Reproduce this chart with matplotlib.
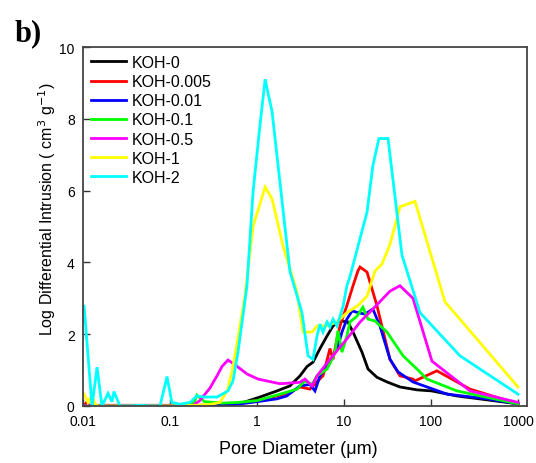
import matplotlib
matplotlib.use("Agg")
import matplotlib.pyplot as plt

plt.rcParams['font.family'] = ['Liberation Sans', 'DejaVu Sans']

labels = ['KOH-0', 'KOH-0.005', 'KOH-0.01', 'KOH-0.1', 'KOH-0.5', 'KOH-1', 'KOH-2']
colors = ['#000000', '#ff0000', '#0000ff', '#00ff00', '#ff00ff', '#ffff00', '#00ffff']

d_koh0 = [0.0103, 0.1, 0.2, 0.5, 0.7, 1.08, 1.7, 2.39, 3.12, 3.76, 4.4, 5.3, 6.38, 7.48, 9.0,
          11.1, 12.7, 16.1, 18.9, 23.9, 31.2, 44, 69, 102, 199, 1000]
v_koh0 = [0.0, 0.0, 0.0, 0.03, 0.1, 0.25, 0.42, 0.56, 0.84, 1.1, 1.22, 1.6, 1.95, 2.23, 2.37,
          2.34, 2.06, 1.5, 1.03, 0.8, 0.67, 0.53, 0.45, 0.42, 0.28, 0.06]

d_koh0005 = [0.0103, 0.0108, 0.012, 0.1, 0.3, 0.6, 1.0, 1.84, 2.5, 3.12, 4.06, 4.4, 5.74, 6.9,
             7.48, 8.31, 9.0, 10.8, 12.7, 14.5, 15.3, 18.4, 23.9, 33.8, 44, 62.1, 65.5, 117,
             281, 1000]
v_koh0005 = [0.0, 0.08, 0.02, 0.02, 0.02, 0.08, 0.15, 0.3, 0.4, 0.53, 0.47, 0.56, 0.84, 1.6,
             1.3, 1.87, 2.23, 2.8, 3.35, 3.77, 3.87, 3.73, 2.8, 1.3, 0.84, 0.75, 0.7, 0.98,
             0.47, 0.06]

d_koh001 = [0.0103, 0.1, 0.3, 0.6, 1.0, 1.7, 2.2, 3.12, 4.06, 4.64, 5.3, 6.9, 8.53, 9.48, 10.8,
            12.4, 14.5, 17.4, 21.5, 25.9, 33.8, 41.8, 62.1, 153, 440, 1000]
v_koh001 = [0.0, 0.0, 0.01, 0.05, 0.12, 0.2, 0.28, 0.56, 0.6, 0.42, 0.84, 1.22, 1.67, 2.06, 2.42,
            2.65, 2.6, 2.56, 2.7, 2.23, 1.3, 0.95, 0.67, 0.33, 0.2, 0.06]

d_koh01 = [0.0103, 0.1, 0.15, 0.19, 0.204, 0.25, 0.4, 0.6, 1.0, 1.84, 2.88, 3.56, 4.29, 4.9, 6.38,
           7.28, 7.88, 8.53, 9.48, 10.8, 11.7, 14.1, 16.5, 18.9, 22.7, 31.2, 47.7, 69, 90,
           199, 1000]
v_koh01 = [0.0, 0.0, 0.02, 0.1, 0.3, 0.12, 0.08, 0.1, 0.15, 0.33, 0.47, 0.7, 0.6, 0.84, 1.03,
           1.3, 1.5, 2.1, 1.5, 1.95, 2.34, 2.5, 2.75, 2.42, 2.37, 2.06, 1.4, 1.03, 0.75,
           0.42, 0.06]

d_koh05 = [0.0103, 0.1, 0.18, 0.22, 0.288, 0.347, 0.396, 0.464, 0.558, 0.77, 1.03, 1.84, 3.12,
           3.56, 4.29, 4.9, 6.9, 10.8, 15.3, 21.5, 33.8, 44, 62.1, 102.6, 281, 1000]
v_koh05 = [0.0, 0.0, 0.0, 0.15, 0.5, 0.84, 1.1, 1.28, 1.15, 0.89, 0.75, 0.62, 0.66,
           0.75, 0.56, 0.84, 1.3, 1.87, 2.34, 2.7, 3.2, 3.35, 3.0, 1.25, 0.42, 0.1]

d_koh1 = [0.0103, 0.0114, 0.0127, 0.0137, 0.015, 0.02, 0.05, 0.1, 0.2, 0.3, 0.376, 0.46, 0.53,
          0.605, 0.73, 0.9, 1.24, 1.49, 1.99, 2.88, 3.38, 4.29, 4.9, 6.38, 8.31, 10.8, 14.5,
          18.4, 22.7, 27.3, 33.8, 44, 65.5, 145, 215, 1000]
v_koh1 = [0.33, 0.1, 0.3, 0.05, 0.0, 0.0, 0.0, 0.0, 0.02, 0.05, 0.1, 0.45, 1.1,
          1.9, 3.1, 5.0, 6.1, 5.77, 4.46, 3.18, 2.06, 2.06, 2.23, 2.23, 2.34, 2.6, 2.8,
          3.06, 3.76, 3.95, 4.5, 5.55, 5.7, 2.9, 2.42, 0.53]

d_koh2 = [0.0103, 0.0127, 0.0145, 0.0165, 0.0194, 0.0215, 0.0227, 0.0266, 0.035, 0.045, 0.059,
          0.0768, 0.0924, 0.105, 0.13, 0.17, 0.204, 0.25, 0.347, 0.464, 0.53, 0.605, 0.767,
          0.9, 1.08, 1.24, 1.49, 2.39, 3.29, 3.86, 4.4, 4.9, 5.3, 5.74, 6.38, 6.9, 7.48, 8.31,
          9.0, 9.8, 10.8, 11.7, 18.4, 21.5, 25.2, 32.1, 38.5, 46.4, 74.8, 215, 1000]
v_koh2 = [2.78, 0.0, 1.08, 0.0, 0.35, 0.12, 0.4, 0.0, 0.0, 0.02, 0.0,
          0.0, 0.82, 0.1, 0.05, 0.1, 0.28, 0.25, 0.25, 0.42, 0.7, 1.5, 3.35,
          5.95, 7.8, 9.1, 8.2, 3.75, 2.6, 1.4, 1.3, 1.95, 2.28, 2.06, 2.34, 2.2, 2.42, 2.23,
          2.5, 2.8, 3.35, 3.6, 5.4, 6.7, 7.45, 7.45, 5.85, 4.2, 2.6, 1.4, 0.33]

series_d = [d_koh0, d_koh0005, d_koh001, d_koh01, d_koh05, d_koh1, d_koh2]
series_v = [v_koh0, v_koh0005, v_koh001, v_koh01, v_koh05, v_koh1, v_koh2]

x_ticks = [0.01, 0.1, 1, 10, 100, 1000]
x_tick_labels = ['0.01', '0.1', '1', '10', '100', '1000']
y_ticks = [0, 2, 4, 6, 8, 10]

fig = plt.figure(figsize=(5.36, 4.64), dpi=100)
ax = fig.add_axes([83 / 536, 57 / 464, 444 / 536, 359 / 464])

for d, v, c, lab in zip(series_d, series_v, colors, labels):
    ax.plot(d, v, color=c, lw=2.0, label=lab, solid_joinstyle='miter')

ax.set_xscale('log')
ax.set_xlim(0.01, 1270)
ax.set_ylim(0, 10)
ax.set_xticks(x_ticks)
ax.set_xticklabels(x_tick_labels)
ax.minorticks_off()
ax.set_yticks(y_ticks)
ax.tick_params(direction='in', length=5, width=1.0, labelsize=10, pad=6, color='#333333')
for s in ax.spines.values():
    s.set_linewidth(1.3)
    s.set_color('#444444')

ax.set_xlabel('Pore Diameter (\u03bcm)', fontsize=13)
ax.xaxis.set_label_coords(0.484, -0.095)
ax.set_ylabel('Log Differential Intrusion ( cm$^{3}$ g$^{-1}$)', fontsize=11.5)
ax.yaxis.set_label_coords(-0.056, 0.55)

leg = ax.legend(loc='upper left', bbox_to_anchor=(0.0, 1.0), frameon=False, fontsize=11.5,
                handlelength=2.2, handletextpad=0.35, labelspacing=0.26, borderaxespad=0.1,
                borderpad=0.4)

fig.text(0.028, 0.912, 'b)', fontsize=22, fontweight='bold',
         family=['Liberation Serif', 'DejaVu Serif'])

fig.savefig('out.png', dpi=100)
